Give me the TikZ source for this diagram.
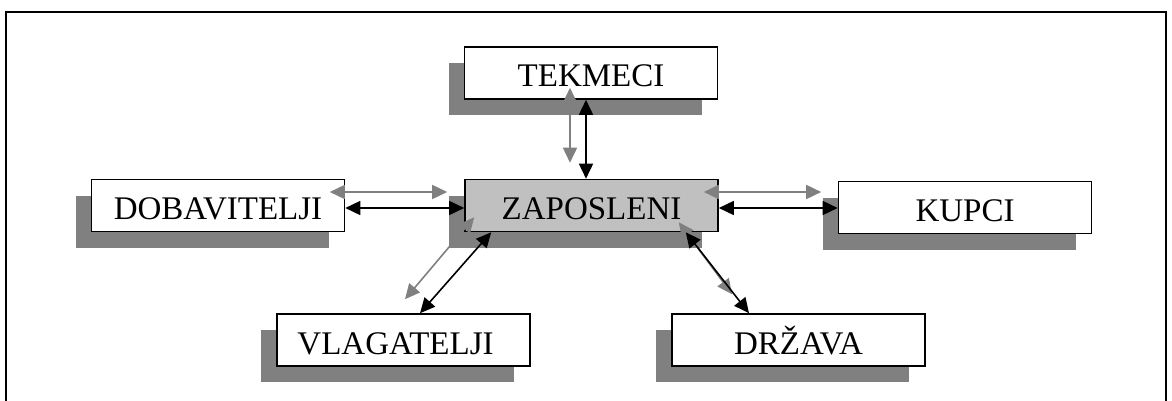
\documentclass[tikz,border=0pt]{standalone}
\usepackage{fontspec}
\setmainfont{Liberation Serif}
\usetikzlibrary{arrows.meta,calc,shadows}
\definecolor{shadowgray}{HTML}{808080}
\definecolor{boxgray}{HTML}{C0C0C0}
\definecolor{arrowgray}{HTML}{808080}
\tikzset{
  box/.style={draw=black, line width=1.6pt, fill=white, minimum width=253pt, minimum height=52pt,
    inner sep=0pt, font=\fontsize{33}{37}\selectfont, text height=28pt, text depth=0pt,
    general shadow={fill=shadowgray, shadow xshift=-16pt, shadow yshift=-16pt}},
  centerbox/.style={box, fill=boxgray},
  blackarrow/.style={draw=black, line width=1.6pt, {Triangle[length=15pt,width=14pt]}-{Triangle[length=15pt,width=14pt]}},
  grayarrow/.style={draw=arrowgray, line width=1.6pt, {Triangle[length=15pt,width=14pt]}-{Triangle[length=15pt,width=14pt]}},
  frameline/.style={draw=black, line width=1.8pt}
}
\begin{document}
\begin{tikzpicture}[x=1pt,y=-1pt]
\useasboundingbox (0,0) rectangle (1172,401);
% frame
\coordinate (fbl) at (6,401);
\coordinate (ftl) at (6,12);
\coordinate (ftr) at (1166,12);
\coordinate (fbr) at (1166,401);
\draw[frameline] (fbl) -- (ftl) -- (ftr) -- (fbr);
% boxes
\node[box] (tek) at (591,73) {TEKMECI};
\node[box] (dob) at (218,205.5) {DOBAVITELJI};
\node[centerbox] (zap) at (591.5,205.5) {ZAPOSLENI};
\node[box] (kup) at (965,207.5) {KUPCI};
\node[box] (vla) at (403.5,340) {VLAGATELJI\hspace*{16pt}};
\node[box] (drz) at (798.5,340) {DRŽAVA};
% TEKMECI
\coordinate (tg1) at ($(tek.south)+(-21,-12)$);
\coordinate (tg2) at ($(zap.north)+(-21.5,-16)$);
\draw[grayarrow] (tg1) -- (tg2);
\coordinate (tb1) at ($(tek.south)+(-5,0)$);
\coordinate (tb2) at ($(zap.north)+(-5.5,0)$);
\draw[blackarrow] (tb1) -- (tb2);
% DOBAVITELJI
\coordinate (dg1) at ($(dob.east)+(-15.5,-13.5)$);
\coordinate (dg2) at ($(zap.west)+(-17,-13.5)$);
\draw[grayarrow] (dg1) -- (dg2);
\coordinate (db1) at ($(dob.east)+(0,2.5)$);
\coordinate (db2) at ($(zap.west)+(0,2.5)$);
\draw[blackarrow] (db1) -- (db2);
% KUPCI
\coordinate (kg1) at ($(zap.east)+(-15,-13.5)$);
\coordinate (kg2) at ($(kup.west)+(-16.5,-15.5)$);
\draw[grayarrow] (kg1) -- (kg2);
\coordinate (kb1) at ($(zap.east)+(0,2.5)$);
\coordinate (kb2) at ($(kup.west)+(0,0.5)$);
\draw[blackarrow] (kb1) -- (kb2);
% VLAGATELJI
\coordinate (vg1) at ($(zap.south west)+(10,-15)$);
\coordinate (vg2) at ($(vla.north)+(1.5,-14)$);
\draw[grayarrow] (vg1) -- (vg2);
\coordinate (vb1) at ($(zap.south west)+(27,0)$);
\coordinate (vb2) at ($(vla.north)+(16.5,0)$);
\draw[blackarrow] (vb1) -- (vb2);
% DRZAVA
\coordinate (rg1) at ($(zap.south east)+(-40,-10)$);
\coordinate (rg2) at ($(drz.north)+(-66.5,-19)$);
\draw[grayarrow] (rg1) -- (rg2);
\coordinate (rb1) at ($(zap.south east)+(-33,0)$);
\coordinate (rb2) at ($(drz.north)+(-49.5,0)$);
\draw[blackarrow] (rb1) -- (rb2);
\end{tikzpicture}
\end{document}
